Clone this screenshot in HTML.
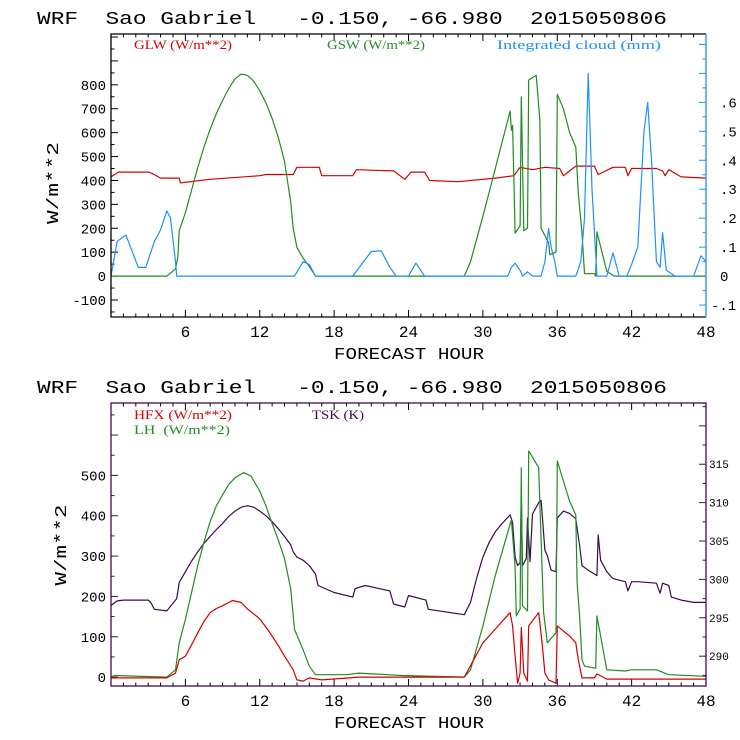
<!DOCTYPE html>
<html><head><meta charset="utf-8"><style>
html,body{margin:0;padding:0;background:#fff;}
svg{display:block;}
text{font-family:"Liberation Mono",monospace;white-space:pre;}
.leg{font-family:"Liberation Serif",serif;font-size:13px;}
</style></head><body>
<svg id="chart" width="740" height="740" viewBox="0 0 740 740" xmlns="http://www.w3.org/2000/svg" xml:space="preserve"></svg>
<script>
// ---------- top panel data ----------
const glwHours=[0,0.3,0.6,3,3.3,4,5.5,5.6,8,12,12.5,14.7,15,16.8,17,19.5,19.8,22.7,22.8,23.7,24.2,25.3,25.7,28,31,32.5,33,34,35,36.2,36.5,37.5,39,39.3,40.5,41.5,41.7,42,44,44.5,44.7,45,46,48];
const glwVals=[415,425,435,435,430,410,410,390,405,420,425,425,455,455,420,420,445,440,440,405,435,435,400,395,410,420,455,445,455,450,420,460,460,425,455,455,420,450,450,440,420,445,415,410];
const gswHours=[0,4.5,5.2,5.4,5.5,6,6.5,7,7.5,8,8.5,9,9.5,10,10.5,11,11.5,12,12.5,13,13.5,14,14.5,14.7,15,15.5,16,16.5,28.5,29,30,31,32.2,32.3,32.4,32.6,33,33.1,33.3,33.6,33.7,34.3,34.6,34.7,35.3,35.4,35.9,36,36.5,37,37.5,37.7,38,38.2,39,39.1,39.2,40,40.6,48];
const gswVals=[0,0,30,80,190,265,360,455,540,615,680,735,785,825,845,840,815,775,725,660,580,480,310,200,120,75,40,0,0,60,250,450,690,610,630,180,210,750,190,200,820,840,650,200,140,90,100,760,700,600,540,345,180,10,10,0,185,20,0,0];
const cloudHours=[0,0.5,1.2,2.2,2.8,3.5,4,4.5,4.8,5.2,5.3,14.8,15.5,16,16.5,19.5,21,21.8,22.5,23,24,24.6,25.3,32,32.3,32.6,33,33.2,33.6,34,34.7,35,35.3,35.5,35.8,36,37.5,37.9,38.2,38.5,38.8,39.2,40,40.5,41,41.6,42,42.5,43,43.3,43.6,44,44.3,44.5,44.8,45.5,47,47.6,48];
const cloudVals=[0,0.12,0.142,0.03,0.03,0.12,0.16,0.225,0.2,0.05,0,0,0.05,0.04,0,0,0.085,0.087,0.03,0,0,0.045,0,0,0.03,0.045,0.02,0,0.015,0,0,0.05,0.165,0.1,0.05,0,0,0.05,0.2,0.7,0.3,0,0,0.08,0,0,0.04,0.1,0.5,0.6,0.4,0.05,0.03,0.15,0.02,0,0,0.07,0.05];
const topLeftTicks=[-100,0,100,200,300,400,500,600,700,800];
const topRightTicks=[-0.1,0,0.1,0.2,0.3,0.4,0.5,0.6];
const topRightLabels=["-.1","0",".1",".2",".3",".4",".5",".6"];
// ---------- bottom panel data ----------
const tskHours=[0,0.5,1,3,3.2,3.5,4.5,5.3,5.5,6,6.5,7,7.5,8,8.5,9,9.5,10,10.5,11,11.5,12,12.5,13,13.5,14,14.5,14.7,15,15.5,16,16.5,16.7,18,19.5,19.7,20.5,22.5,22.8,23.7,24,25.4,25.6,28.5,29,29.5,30,30.5,31,31.5,32.2,32.4,32.6,32.8,33,33.1,33.2,33.5,33.6,33.8,34,34.5,34.7,35,35.2,35.5,35.9,36,36.5,37,37.5,37.8,38,38.5,39.2,39.3,39.5,40,40.5,41.5,41.7,42,42.5,44,44.3,44.5,45,45.2,46,47,48];
const tskVals=[296.6,297.2,297.3,297.3,297,296.1,295.9,297.5,299.6,301,302.4,303.6,304.7,305.6,306.5,307.3,308.2,308.9,309.4,309.6,309.4,308.9,308.3,307.5,306.6,305.6,304.5,303.6,302.9,302.5,301.8,300.7,299.2,298.3,297.7,298.8,299.2,298.5,296.8,296.4,297.9,297.3,296.1,295.4,297,300.2,302.9,304.8,306.2,307.2,308.4,307.4,302.9,301.8,302.2,310.6,301.8,302.7,308,302.3,308.5,310,310.3,303.8,303.1,301.2,301,308,308.9,308.6,307.9,304.4,301.8,301.2,300.5,305.8,302.5,301,300.1,299.7,298.5,299.7,299.7,299.5,298.2,299.5,299.2,297.7,297.3,297,297];
const lhHours=[0,0.3,4.5,5.2,5.5,6,6.5,7,7.5,8,8.5,9,9.5,10,10.7,11.3,12,12.5,13,13.5,14,14.5,14.8,15.5,16,16.5,19,20,23.5,28.5,29,30,31,32.3,32.6,32.7,33,33.1,33.2,33.6,33.7,34.5,34.6,34.9,35.2,35.9,36,36.5,37,37.5,37.6,37.8,38,38.2,39.1,39.2,39.5,40,41.5,42,44,45,48];
const lhVals=[0,4,0,18,85,143,210,277,335,386,425,452,478,494,507,498,461,425,381,340,294,219,118,68,27,6,6,10,4,0,18,127,252,390,273,152,169,519,177,164,561,519,427,160,85,110,536,486,436,402,235,152,43,27,22,152,102,18,15,18,18,6,2];
const hfxHours=[0,4.5,5.2,5.5,6,6.5,7,7.5,8,8.5,9,9.8,10.5,11,11.5,12,12.5,13,13.5,14,14.7,15,15.5,16,17,20,28.5,30,31,32.2,32.4,32.6,32.8,33,33.1,33.3,33.6,33.7,34.5,34.8,35,35.3,35.9,36,36.5,37,37.5,37.7,38,39,39.2,40,48];
const hfxVals=[-2,-2,10,43,52,80,110,138,160,170,177,190,185,169,157,144,124,102,78,52,18,-7,-10,-2,-7,0,0,85,119,160,127,52,-15,10,123,10,-10,127,160,77,10,-7,-15,127,114,102,85,43,-2,-2,8,-5,-5];
const botLeftTicks=[0,100,200,300,400,500];
const botRightTicks=[290,295,300,305,310,315];
const hourTicks=[6,12,18,24,30,36,42,48];

const svg=document.getElementById('chart');
const NS='http://www.w3.org/2000/svg';
function mk(tag,attrs,parent){const e=document.createElementNS(NS,tag);for(const k in attrs)e.setAttribute(k,attrs[k]);(parent||svg).appendChild(e);return e;}
const X0=111,X1=706;
const xs=h=>X0+h*(X1-X0)/48;
const T={top:34,bot:317,y:v=>276.1-v*0.2391,yr:v=>276.1-v*289.6};
const B={top:403,bot:686,y:v=>677.1-v*0.4034,yr:v=>579.4-(v-300)*7.677};

function line(hours,vals,yf,color,name,g){
  let d='';
  for(let i=0;i<hours.length;i++){d+=(i?'L':'M')+xs(hours[i]).toFixed(1)+','+yf(vals[i]).toFixed(1);}
  const p=mk('path',{d:d,fill:'none',stroke:color,'stroke-width':1.2,'stroke-linejoin':'round'},g);
  
  
}
function txt(s,attrs,g,name){const t=mk('text',attrs,g);t.textContent=s;return t;}

function panel(P,yTop,name){
  const g=mk('g',{});
  
  
  txt('WRF  Sao Gabriel   -0.150, -66.980  2015050806',{x:37,y:yTop,'font-size':18,textLength:630,lengthAdjust:'spacingAndGlyphs',fill:'#000'},g,'chart-title');
  for(let h=1;h<48;h++){
    const len=h%6===0?7:3.5;
    mk('line',{x1:xs(h),x2:xs(h),y1:P.bot,y2:P.bot-len,stroke:'#000','stroke-width':1},g);
    mk('line',{x1:xs(h),x2:xs(h),y1:P.top,y2:P.top+len,stroke:'#000','stroke-width':1},g);
  }
  hourTicks.forEach(h=>txt(String(h),{x:xs(h),y:P.bot+20,'font-size':16,'text-anchor':'middle',fill:'#000'},g,'x-tick-label'));
  txt('FORECAST HOUR',{x:409,y:P.bot+42,'font-size':17,textLength:150,lengthAdjust:'spacingAndGlyphs','text-anchor':'middle',fill:'#000'},g,'x-axis-title');
  return g;
}
// ---- top panel ----
const gt=panel(T,24,'top-panel');
for(let v=-150;v<=1000;v+=50){const y=T.y(v);if(y<T.top+1||y>T.bot-1)continue;const len=v%100===0?7:3.5;mk('line',{x1:X0,x2:X0+len,y1:y,y2:y,stroke:'#000'},gt);}
topLeftTicks.forEach(v=>txt(String(v),{x:106,y:T.y(v)+5,'font-size':14,'text-anchor':'end',fill:'#000'},gt,'y-tick-label'));
for(let v=-0.1;v<=0.85;v+=0.05){const y=T.yr(v);if(y<T.top+1||y>T.bot-1)continue;const len=Math.round(v*100)%10===0?7:3.5;mk('line',{x1:X1,x2:X1-len,y1:y,y2:y,stroke:'#1e90ff'},gt);}
topRightTicks.forEach((v,i)=>txt(topRightLabels[i],{x:v<0?711:720,y:T.yr(v)+5,'font-size':14,fill:'#000'},gt,'right-tick-label'));
txt('W/m**2',{x:0,y:0,'font-size':17,textLength:82,lengthAdjust:'spacingAndGlyphs','text-anchor':'middle',transform:'translate(58,183) rotate(-90)',fill:'#000'},gt,'y-axis-title');
line(glwHours,glwVals,T.y,'#d40000','glw-line',gt);
line(gswHours,gswVals,T.y,'#228b22','gsw-line',gt);
line(cloudHours,cloudVals,T.yr,'#1e90ff','cloud-line',gt);
mk('path',{d:`M${X1},${T.top}H${X0}V${T.bot}H${X1}`,fill:'none',stroke:'#000','stroke-width':1.3},gt);
mk('line',{x1:X1,x2:X1,y1:T.top,y2:T.bot,stroke:'#1e90ff','stroke-width':1.3},gt);
txt('GLW (W/m**2)',{x:134,y:49,fill:'#d40000',class:'leg',textLength:98,lengthAdjust:'spacingAndGlyphs'},gt,'legend-glw');
txt('GSW (W/m**2)',{x:327,y:49,fill:'#228b22',class:'leg',textLength:98,lengthAdjust:'spacingAndGlyphs'},gt,'legend-gsw');
txt('Integrated cloud (mm)',{x:497,y:49,fill:'#1e90ff',class:'leg',textLength:164,lengthAdjust:'spacingAndGlyphs'},gt,'legend-cloud');
// ---- bottom panel ----
const gb=panel(B,393,'bottom-panel');
for(let v=-50;v<=700;v+=50){const y=B.y(v);if(y<B.top+1||y>B.bot-1)continue;const len=v%100===0?7:3.5;mk('line',{x1:X0,x2:X0+len,y1:y,y2:y,stroke:'#3c0f4b'},gb);}
botLeftTicks.forEach(v=>txt(String(v),{x:106,y:B.y(v)+5,'font-size':14,'text-anchor':'end',fill:'#000'},gb,'y-tick-label'));
for(let v=287.5;v<=322.5;v+=2.5){const y=B.yr(v);if(y<B.top+1||y>B.bot-1)continue;const len=v%5===0?7:3.5;mk('line',{x1:X1,x2:X1-len,y1:y,y2:y,stroke:'#3c0f4b'},gb);}
botRightTicks.forEach(v=>txt(String(v),{x:709,y:B.yr(v)+4,'font-size':11,fill:'#000'},gb,'right-tick-label'));
txt('W/m**2',{x:0,y:0,'font-size':17,textLength:81,lengthAdjust:'spacingAndGlyphs','text-anchor':'middle',transform:'translate(66,545) rotate(-90)',fill:'#000'},gb,'y-axis-title');
line(tskHours,tskVals,B.yr,'#3c0a46','tsk-line',gb);
line(lhHours,lhVals,B.y,'#228b22','lh-line',gb);
line(hfxHours,hfxVals,B.y,'#d40000','hfx-line',gb);
mk('rect',{x:X0,y:B.top,width:X1-X0,height:B.bot-B.top,fill:'none',stroke:'#3c0f4b','stroke-width':1.3},gb);
txt('HFX (W/m**2)',{x:134,y:419,fill:'#d40000',class:'leg',textLength:98,lengthAdjust:'spacingAndGlyphs'},gb,'legend-hfx');
txt('LH  (W/m**2)',{x:134,y:434,fill:'#228b22',class:'leg',textLength:96,lengthAdjust:'spacingAndGlyphs'},gb,'legend-lh');
txt('TSK (K)',{x:312,y:419,fill:'#3c0a46',class:'leg',textLength:52,lengthAdjust:'spacingAndGlyphs'},gb,'legend-tsk');
</script>
</body></html>
